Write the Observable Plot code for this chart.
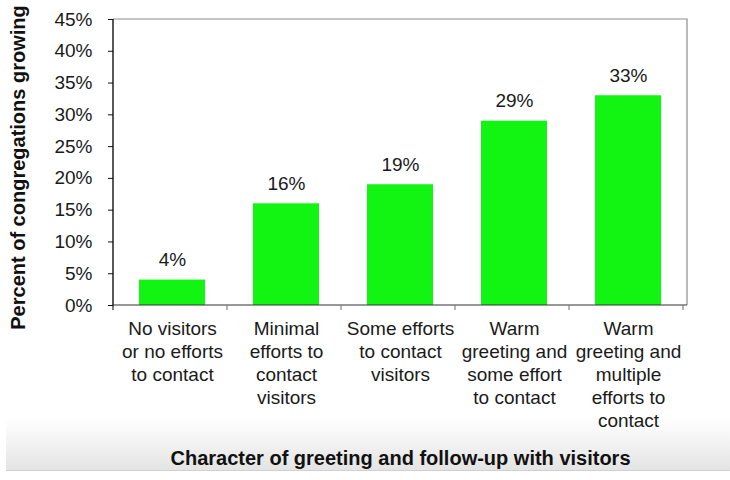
<!DOCTYPE html>
<html>
<head>
<meta charset="utf-8">
<script src="https://cdn.jsdelivr.net/npm/d3@7"></script>
<script src="https://cdn.jsdelivr.net/npm/@observablehq/plot@0.6"></script>
<style>
  html, body { margin: 0; padding: 0; background: #fff; }
  #wrap { position: relative; width: 730px; height: 480px; }
  #band { position: absolute; left: 6px; right: 0; top: 418px; height: 52px;
          background: linear-gradient(to bottom, #ffffff, #e4e4e4); border-bottom: 1px solid #d0d0d0; }
  #chart { position: absolute; left: 0; top: 0; }
</style>
</head>
<body>
<div id="wrap"><div id="band"></div><div id="chart"></div></div>
<script>
const categories = [
  "No visitors\nor no efforts\nto contact",
  "Minimal\nefforts to\ncontact\nvisitors",
  "Some efforts\nto contact\nvisitors",
  "Warm\ngreeting and\nsome effort\nto contact",
  "Warm\ngreeting and\nmultiple\nefforts to\ncontact"
];
const values = [0.04, 0.16, 0.19, 0.29, 0.33];
const yTicks = [0, 0.05, 0.10, 0.15, 0.20, 0.25, 0.30, 0.35, 0.40, 0.45];
const yTitle = "Percent of congregations growing";
const xTitle = "Character of greeting and follow-up with visitors";

const data = categories.map((c, i) => ({category: c, value: values[i]}));
const font = "'Liberation Sans', Arial, Helvetica, sans-serif";

function axisLines(index, scales, vals, dims) {
  const x = scales.x;
  const step = x.step ? x.step() : (dims.width - dims.marginLeft - dims.marginRight) / categories.length;
  const left = dims.marginLeft, right = dims.width - dims.marginRight;
  const top = dims.marginTop, bottom = dims.height - dims.marginBottom;
  const g = d3.create("svg:g").attr("fill", "none");
  g.append("path").attr("stroke", "#8c8c8c").attr("stroke-width", 1.2)
    .attr("d", `M${left},${top}H${right}V${bottom}`);
  g.append("path").attr("stroke", "#111").attr("stroke-width", 1.4)
    .attr("d", `M${left},${top}V${bottom}`);
  g.append("path").attr("stroke", "#333").attr("stroke-width", 1.2)
    .attr("d", `M${left},${bottom}H${right}`);
  for (let i = 0; i <= categories.length; i++) {
    const bx = left + i * step;
    g.append("path").attr("stroke", i === 0 ? "#111" : "#777").attr("stroke-width", 1.1)
      .attr("d", `M${bx},${bottom}V${bottom + 5}`);
  }
  return g.node();
}

const plot = Plot.plot({
  width: 730,
  height: 480,
  marginTop: 19,
  marginBottom: 175,
  marginLeft: 113,
  marginRight: 43,
  style: {fontFamily: font, fontSize: "19px", color: "#1a1a1a", background: "transparent"},
  x: {domain: categories, paddingInner: 0.42, paddingOuter: 0.21, label: null},
  y: {domain: [0, 0.45], label: null},
  marks: [
    Plot.barY(data, {x: "category", y: "value", fill: "#12f512"}),
    Plot.text(data, {x: "category", y: "value", text: d => d3.format(".0%")(d.value),
      lineAnchor: "bottom", dy: -14, fontSize: 19, fill: "#1a1a1a"}),
    Plot.axisY({ticks: yTicks, tickFormat: d3.format(".0%"), tickSize: 5, tickPadding: 16,
      stroke: "#111", fill: "#1a1a1a", fontSize: 19, label: null}),
    Plot.axisX({tickSize: 0, tickPadding: 13, lineHeight: 1.21, fontSize: 19, fill: "#1a1a1a", label: null}),
    axisLines,
    Plot.text([yTitle], {frameAnchor: "left", textAnchor: "middle", text: d => d, rotate: -90, dx: -95, dy: 5,
      fontWeight: "bold", fontSize: 20, fill: "#111"}),
    Plot.text([xTitle], {frameAnchor: "bottom", textAnchor: "middle", text: d => d, dy: 159,
      fontWeight: "bold", fontSize: 20, fill: "#111"})
  ]
});
document.getElementById("chart").append(plot);
</script>
</body>
</html>
